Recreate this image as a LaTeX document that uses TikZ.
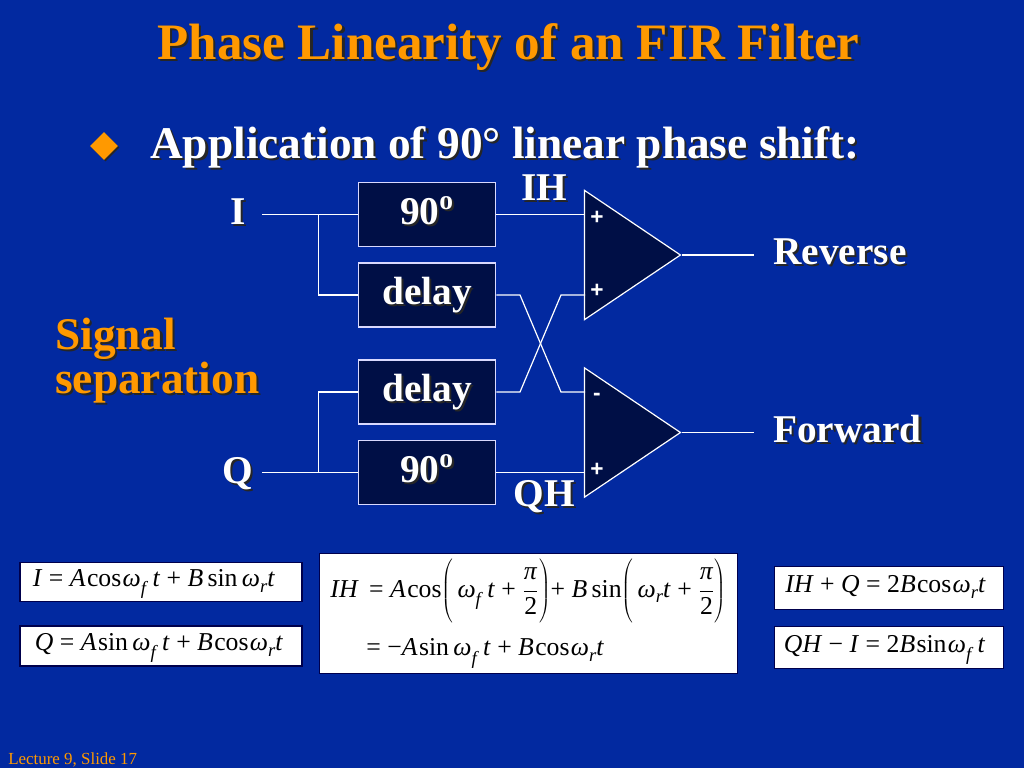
\documentclass[tikz,border=0pt]{standalone}
\usepackage{fontspec}
\usepackage{fix-cm}
\setmainfont{Liberation Serif}
\setsansfont{Liberation Sans}
\usetikzlibrary{shapes.geometric}
\definecolor{slideblue}{RGB}{2,41,160}
\definecolor{boxnavy}{RGB}{0,15,70}
\definecolor{slideorange}{RGB}{255,153,0}
\newcommand{\shadowtxt}[2]{\makebox[0pt][l]{\hspace{1.6pt}\raisebox{-1.6pt}{\textcolor{black!85}{#2}}}\textcolor{#1}{#2}}
\newcommand{\omf}{\textit{ω}\raisebox{-.32em}{\fontsize{14}{14}\selectfont\textit{f}}\,}
\newcommand{\omr}{\textit{ω}\raisebox{-.22em}{\fontsize{14}{14}\selectfont\textit{r}}}
\newcommand{\vr}[1]{\textit{#1}}
\newcommand{\halfpi}{\displaystyle\frac{\mbox{\textit{π}}}{\mbox{2}}}
\newcommand{\tallrule}{\rule[-19pt]{0pt}{47pt}}
\begin{document}
\begin{tikzpicture}[x=0.75pt, y=-0.75pt]
\tikzset{wire/.style={draw=white, line width=0.9pt}}
\tikzset{blockbox/.style={draw=white!85!blue, fill=boxnavy, line width=0.9pt, minimum width=103pt, minimum height=48pt, inner sep=0pt, text height=18pt, text depth=4pt, font=\fontsize{29.5}{32}\selectfont\bfseries}}
\tikzset{ampbox/.style={isosceles triangle, isosceles triangle stretches, draw=white, fill=boxnavy, line width=0.9pt, minimum width=97pt, minimum height=72pt, inner sep=0pt, anchor=apex}}
\tikzset{heading/.style={font=\fontsize{29.5}{32}\selectfont\bfseries, inner sep=0pt, anchor=base}}
\tikzset{bigtext/.style={font=\fontsize{34}{38}\selectfont\bfseries, inner sep=0pt, anchor=base west}}
\tikzset{signnode/.style={text=white, font=\fontsize{17}{17}\selectfont\sffamily\bfseries, inner sep=0pt}}
\tikzset{eqbox/.style={draw=black!70!blue, fill=white, line width=0.9pt, text=black, inner sep=0pt, font=\fontsize{19.3}{24}\selectfont}}
\tikzset{eqline/.style={eqbox, text height=14pt, text depth=7pt}}
\fill[slideblue] (0,0) rectangle (1024,768);
\node[font=\fontsize{38.3}{42}\selectfont\bfseries, inner sep=0pt, anchor=base] (title) at (508.5,59) {\shadowtxt{slideorange}{Phase Linearity of an FIR Filter}};
\node[diamond, fill=black!85, inner sep=0pt, minimum width=21pt, minimum height=21pt] (bulletshade) at (105.5,147.5) {};
\node[diamond, fill=slideorange, inner sep=0pt, minimum width=21pt, minimum height=21pt] (bullet) at (104,146) {};
\node[bigtext] (subtitle) at (150,158) {\shadowtxt{white}{Application of 90° linear phase shift:}};
\node[blockbox] (upshift) at (427,214.7) {\shadowtxt{white}{90\textsuperscript{o}}};
\node[blockbox] (updelay) at (427,295) {\shadowtxt{white}{delay}};
\node[blockbox] (lowdelay) at (427,392) {\shadowtxt{white}{delay}};
\node[blockbox] (lowshift) at (427,472.7) {\shadowtxt{white}{90\textsuperscript{o}}};
\node[ampbox] (upamp) at (682,255) {};
\node[ampbox] (lowamp) at (682,432.5) {};
\coordinate (iin) at (262,214.7);
\coordinate (qin) at (262,472.7);
\coordinate (isplit) at (318.5,214.7);
\coordinate (qsplit) at (318.5,472.7);
\coordinate (reverseout) at (754,255);
\coordinate (forwardout) at (754,432.5);
\draw[wire] (iin) -- (upshift.west);
\draw[wire] (isplit) |- (updelay.west);
\draw[wire] (qin) -- (lowshift.west);
\draw[wire] (qsplit) |- (lowdelay.west);
\draw[wire] (upshift.east) -- (585,214.7);
\draw[wire] (lowshift.east) -- (585,472.7);
\draw[wire] (updelay.east) -- (520,295) -- (561,392) -- (585,392);
\draw[wire] (lowdelay.east) -- (520,392) -- (561,295) -- (585,295);
\draw[wire] (upamp.apex) -- (reverseout);
\draw[wire] (lowamp.apex) -- (forwardout);
\node[signnode] (upplusa) at (597,218) {+};
\node[signnode] (upplusb) at (597,291) {+};
\node[signnode] (lowminus) at (597,397) {-};
\node[signnode] (lowplus) at (597,470) {+};
\node[heading] (ilabel) at (238,224) {\shadowtxt{white}{I}};
\node[heading] (qlabel) at (238,483) {\shadowtxt{white}{Q}};
\node[heading] (ihlabel) at (544,200) {\shadowtxt{white}{IH}};
\node[heading] (qhlabel) at (544,506) {\shadowtxt{white}{QH}};
\node[heading, anchor=base west] (reverselabel) at (773,264) {\shadowtxt{white}{Reverse}};
\node[heading, anchor=base west] (forwardlabel) at (773,442) {\shadowtxt{white}{Forward}};
\node[bigtext, text=slideorange] (signala) at (55,349) {\shadowtxt{slideorange}{Signal}};
\node[bigtext, text=slideorange] (signalb) at (55,393) {\shadowtxt{slideorange}{separation}};
\node[eqline, minimum width=211.5pt, minimum height=29.5pt] (eqi) at (161,582) {\vr{I} = \vr{A}\kern1pt cos\kern1pt\omf\vr{t} + \vr{B}\,sin\,\omr\vr{t}\kern10.5pt};
\node[eqline, minimum width=211.5pt, minimum height=30pt] (eqq) at (161,646) {\vr{Q} = \vr{A}\kern1pt sin\,\omf\vr{t} + \vr{B}\kern1pt cos\kern1pt\omr\vr{t}\kern3pt};
\node[eqbox, minimum width=314pt, minimum height=90.5pt, align=left] (eqih) at (528.5,613.5) {\vr{IH}\kern3pt{} = \vr{A}\kern1pt cos$\left(\tallrule\mbox{\,\omf\vr{t} + }\halfpi\right)$+ \vr{B}\,sin$\left(\tallrule\mbox{\,\omr\vr{t} + }\halfpi\right)$\\[11pt]\hspace{27pt}= −\vr{A}\kern1pt sin\,\omf\vr{t} + \vr{B}\kern1pt cos\kern1pt\omr\vr{t}\rule[-3pt]{0pt}{1pt}};
\node[eqline, minimum width=172pt, minimum height=32pt] (eqsum) at (889,588) {\vr{IH} + \vr{Q} = 2\vr{B}\kern1pt cos\kern1pt\omr\vr{t}\kern5pt};
\node[eqline, minimum width=172pt, minimum height=32pt] (eqdiff) at (889,647.5) {\vr{QH} − \vr{I} = 2\vr{B}\kern1pt sin\kern1pt\omf\vr{t}\kern6.5pt};
\node[anchor=west, text=slideorange, font=\fontsize{12.7}{14}\selectfont, inner sep=0pt] (footer) at (8,760) {Lecture 9, Slide 17};
\end{tikzpicture}
\end{document}
